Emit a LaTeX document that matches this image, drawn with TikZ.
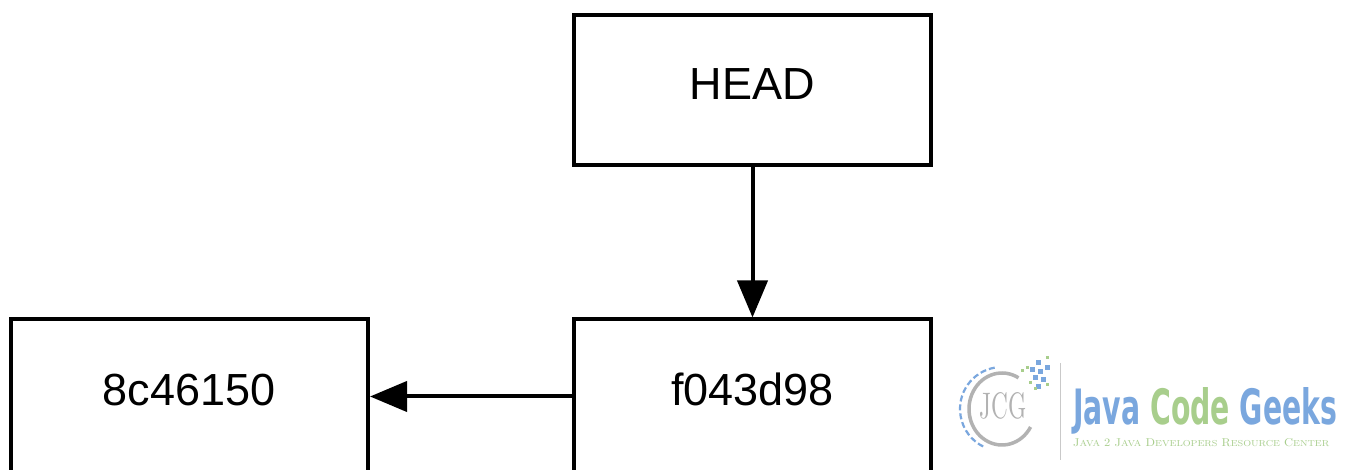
\documentclass[tikz,border=0pt]{standalone}
\usepackage{fontspec}
\setmainfont{Liberation Sans}
\newfontfamily\lmr{Latin Modern Roman}
\newfontfamily\dvc{DejaVu Sans Condensed}
\usetikzlibrary{arrows.meta}
\definecolor{jcgblue}{RGB}{122,167,222}
\definecolor{jcggreen}{RGB}{168,206,140}
\definecolor{jcggray}{RGB}{178,178,178}
\newcommand\jcgsc[2]{{\fontsize{10}{10}\selectfont #1}{\fontsize{7.6}{7.6}\selectfont #2}}
\tikzset{
  commit/.style={draw=black, line width=4pt, fill=white, minimum width=357pt,
    inner sep=0pt, text height=32pt, text depth=13pt,
    font=\fontsize{45}{54}\selectfont},
  link/.style={line width=4pt, -{Triangle[length=37pt,width=30pt]}},
  bluesq/.style={fill=jcgblue},
  greensq/.style={fill=jcggreen},
}
\begin{document}
\begin{tikzpicture}[x=1pt,y=1pt]
\path[use as bounding box, clip] (0,0) rectangle (1349,470);
\fill[white] (0,0) rectangle (1349,470);
% commits
\node[commit, minimum height=150pt] (head) at (752.5,380) {HEAD};
\node[commit, minimum height=154pt] (f043) at (752.5,73.5) {f043d98};
\node[commit, minimum height=154pt, minimum width=357.5pt] (c8c4) at (189.25,73.5) {8c46150};
\draw[link] (head) -- (f043);
\draw[link] (f043) -- (c8c4);
% watermark
\draw[jcggray!70, line width=1pt] (1060,107) -- (1060,10);
\node[anchor=base west, inner sep=0pt] (jcgname) at (1073,45)
  {\resizebox{264pt}{37pt}{\dvc\bfseries\textcolor{jcgblue}{Java} \textcolor{jcggreen}{Code} \textcolor{jcgblue}{Geeks}}};
\node[anchor=base west, inner sep=0pt] (jcgsub) at (1073,23)
  {\resizebox{256pt}{8pt}{\color{jcggreen}\lmr\jcgsc{J}{AVA} \jcgsc{2}{} \jcgsc{J}{AVA} \jcgsc{D}{EVELOPERS} \jcgsc{R}{ESOURCE} \jcgsc{C}{ENTER}}};
\coordinate (ringc) at (1002,61);
\draw[jcggray, line width=3.5pt] (ringc) ++(60:33pt and 36pt)
  arc[start angle=60, end angle=330, x radius=33pt, y radius=36pt];
\draw[jcgblue, line width=2.2pt, dash pattern=on 6pt off 3pt] (ringc) ++(100:42pt)
  arc[start angle=100, end angle=245, radius=42pt];
\node[inner sep=0pt] (jcgmark) at (1003,64)
  {\resizebox{47pt}{26pt}{\color{jcggray}\lmr JCG}};
\foreach \x/\y in {1038/363,1047/368,1032/370,1040/372,1035/378,1043/380,1038/387}
  \fill[bluesq] ({\x-2.5},{467.5-\y}) rectangle ++(5,5);
\foreach \x/\y in {1047/358,1022/371,1027/368,1035/389,1047/385,1030/383}
  \fill[greensq] ({\x-1.5},{468.5-\y}) rectangle ++(3,3);
\end{tikzpicture}
\end{document}
